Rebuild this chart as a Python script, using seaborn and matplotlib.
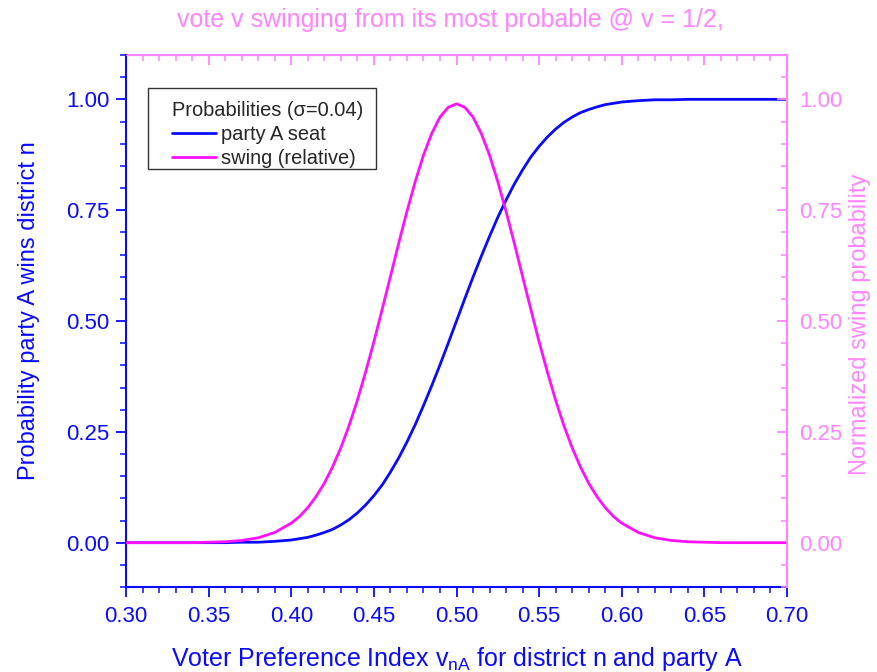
import matplotlib
matplotlib.use("Agg")
import matplotlib.pyplot as plt
import seaborn as sns
import pandas as pd
from matplotlib.ticker import MultipleLocator, FormatStrFormatter
from matplotlib.lines import Line2D
from matplotlib.patches import Rectangle

# ---------------- data ----------------
vote_index = [0.30, 0.31, 0.32, 0.33, 0.34, 0.35, 0.36, 0.37, 0.38, 0.39,
              0.400, 0.405, 0.410, 0.415, 0.420, 0.425, 0.430, 0.435, 0.440, 0.445,
              0.450, 0.455, 0.460, 0.465, 0.470, 0.475, 0.480, 0.485, 0.490, 0.495,
              0.500, 0.505, 0.510, 0.515, 0.520, 0.525, 0.530, 0.535, 0.540, 0.545,
              0.550, 0.555, 0.560, 0.565, 0.570, 0.575, 0.580, 0.585, 0.590, 0.595,
              0.600,
              0.61, 0.62, 0.63, 0.64, 0.65, 0.66, 0.67, 0.68, 0.69, 0.70]

seat_prob = [0.000, 0.000, 0.000, 0.000, 0.000, 0.000, 0.000, 0.001, 0.001, 0.003,
             0.006, 0.009, 0.012, 0.017, 0.023, 0.030, 0.040, 0.052, 0.067, 0.085,
             0.106, 0.130, 0.159, 0.191, 0.227, 0.266, 0.309, 0.354, 0.401, 0.450,
             0.500, 0.550, 0.599, 0.646, 0.691, 0.734, 0.773, 0.809, 0.841, 0.870,
             0.894, 0.915, 0.933, 0.948, 0.960, 0.970, 0.977, 0.983, 0.988, 0.991,
             0.994,
             0.997, 0.999, 0.999, 1.000, 1.000, 1.000, 1.000, 1.000, 1.000, 1.000]

swing_rel = [0.000, 0.000, 0.000, 0.000, 0.000, 0.001, 0.002, 0.005, 0.011, 0.023,
             0.044, 0.059, 0.079, 0.104, 0.134, 0.171, 0.214, 0.264, 0.321, 0.385,
             0.453, 0.526, 0.600, 0.675, 0.747, 0.814, 0.874, 0.923, 0.960, 0.982,
             0.990, 0.982, 0.960, 0.923, 0.874, 0.814, 0.747, 0.675, 0.600, 0.526,
             0.453, 0.385, 0.321, 0.264, 0.214, 0.171, 0.134, 0.104, 0.079, 0.059,
             0.044,
             0.023, 0.011, 0.005, 0.002, 0.001, 0.000, 0.000, 0.000, 0.000, 0.000]

series_labels = ["party A seat", "swing (relative)"]
legend_title = "Probabilities (\u03c3=0.04)"
title_text = "vote v swinging from its most probable @ v = 1/2,"
xlabel_text = r"Voter Preference Index v$_{\mathregular{nA}}$ for district n and party A"
ylabel_left = "Probability party A wins district n"
ylabel_right = "Normalized swing probability"

# ---------------- style ----------------
BLUE = "#0a0aff"
MAG = "#ff10ff"
PINK = "#ff85ff"

sns.set_style("white")
plt.rcParams["font.family"] = ["Liberation Sans", "DejaVu Sans"]
plt.rcParams["mathtext.default"] = "regular"

df = pd.DataFrame({"v": vote_index, "seat": seat_prob, "swing": swing_rel})

fig = plt.figure(figsize=(8.77, 6.72), dpi=100)
ax = fig.add_axes([126 / 877, 85 / 672, 661 / 877, 532 / 672])
ax2 = ax.twinx()

sns.lineplot(data=df, x="v", y="seat", ax=ax, color=BLUE, lw=2.0, legend=False)
sns.lineplot(data=df, x="v", y="swing", ax=ax2, color=MAG, lw=2.0, legend=False)

ax.set_xlim(0.30, 0.70)
ax.set_ylim(-0.1, 1.1)
ax2.set_ylim(-0.1, 1.1)

for a in (ax, ax2):
    a.yaxis.set_major_locator(MultipleLocator(0.25))
    a.yaxis.set_minor_locator(MultipleLocator(0.05))
    a.yaxis.set_major_formatter(FormatStrFormatter("%.2f"))
ax.xaxis.set_major_locator(MultipleLocator(0.05))
ax.xaxis.set_minor_locator(MultipleLocator(0.01))
ax.xaxis.set_major_formatter(FormatStrFormatter("%.2f"))

ax.tick_params(axis="x", which="both", direction="out", colors=BLUE,
               labelsize=16, bottom=True, top=False, pad=7)
ax.tick_params(axis="y", which="both", direction="out", colors=BLUE,
               labelsize=16, left=True, right=False, pad=5)
ax.tick_params(which="major", length=7, width=1.3)
ax.tick_params(which="minor", length=4, width=1.1)

ax2.tick_params(axis="y", which="both", direction="in", colors=PINK,
                labelsize=16, right=True, left=False, pad=8.5)
ax2.tick_params(which="major", length=7, width=1.3)
ax2.tick_params(which="minor", length=4, width=1.1)

# top axis with inward pink ticks
secx = ax.secondary_xaxis("top")
secx.xaxis.set_major_locator(MultipleLocator(0.05))
secx.xaxis.set_minor_locator(MultipleLocator(0.01))
secx.tick_params(axis="x", which="both", direction="in", colors=PINK,
                 labeltop=False)
secx.tick_params(which="major", length=7, width=1.3)
secx.tick_params(which="minor", length=4, width=1.1)
secx.spines["top"].set_color(PINK)
secx.spines["top"].set_linewidth(1.5)

for s in ("left", "bottom"):
    ax.spines[s].set_color(BLUE)
    ax.spines[s].set_linewidth(1.5)
ax.spines["top"].set_color(PINK)
ax.spines["right"].set_visible(False)
for s in ("left", "bottom", "top"):
    ax2.spines[s].set_visible(False)
ax2.spines["right"].set_color(PINK)
ax2.spines["right"].set_linewidth(1.5)

ax.set_xlabel(xlabel_text, fontsize=18, color=BLUE)
ax.xaxis.set_label_coords(0.5, -0.109)
ax.set_ylabel(ylabel_left, fontsize=17, color=BLUE)
ax.yaxis.set_label_coords(-0.13, 0.52)
ax2.set_ylabel(ylabel_right, fontsize=17, color=PINK)
ax2.yaxis.set_label_coords(1.094, 0.494)

fig.text(450 / 877, 1 - 27 / 672, title_text, fontsize=18, color=PINK,
         ha="center", va="baseline")

# legend: frame drawn as a rectangle, entries placed inside it
frame = Rectangle(((148 - 126) / 661, (587 - 169) / 532),
                  (376 - 148) / 661, (169 - 88) / 532,
                  transform=ax2.transAxes, facecolor="white",
                  edgecolor="#333333", lw=1.0, zorder=5)
ax2.add_patch(frame)
handles = [Line2D([], [], color=BLUE, lw=2.0), Line2D([], [], color=MAG, lw=2.0)]
leg = ax2.legend(handles, series_labels, title=legend_title, loc="upper left",
                 bbox_to_anchor=((172 - 126) / 661, (587 - 101) / 532),
                 borderaxespad=0, borderpad=0, fontsize=14.4, title_fontsize=14.4,
                 frameon=False, handlelength=2.2, handletextpad=0.25,
                 labelspacing=0.25, alignment="left")
leg.set_zorder(6)

fig.savefig("out.png", dpi=100)
